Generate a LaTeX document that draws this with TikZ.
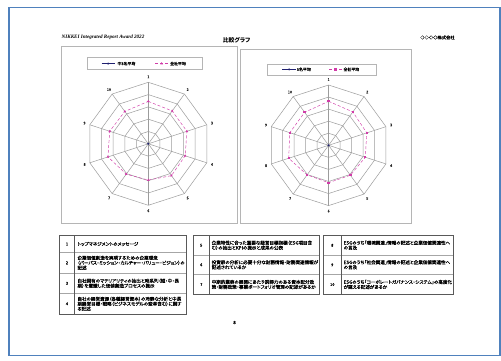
\documentclass[tikz,border=0pt]{standalone}
\usepackage{fontspec}
\setmainfont{Liberation Serif}
\newfontfamily\jp[RawFeature=+palt]{Noto Sans CJK JP}
\newfontfamily\jpm[RawFeature=+palt,FakeBold=0.5]{Noto Sans CJK JP}
\usetikzlibrary{shapes.geometric}
\definecolor{pageblue}{HTML}{4F81BD}
\definecolor{gridgray}{HTML}{9C9C9C}
\definecolor{boxgray}{HTML}{B5B5B5}
\definecolor{navyc}{HTML}{1F2070}
\definecolor{pinkm}{HTML}{D13BA8}
\definecolor{tabdark}{HTML}{595959}
\definecolor{tablight}{HTML}{A6A6A6}
\tikzset{
  gridline/.style={draw=gridgray,line width=0.5pt},
  chartbox/.style={draw=boxgray,line width=0.6pt},
  legbox/.style={draw=boxgray,line width=0.6pt},
  pinkline/.style={draw=pinkm,line width=0.45pt,densely dashed},
  navyline/.style={draw=navyc,line width=0.8pt},
  trimark/.style={regular polygon,regular polygon sides=3,fill=pinkm,inner sep=0pt,minimum size=3pt},
  sqmark/.style={rectangle,fill=pinkm,inner sep=0pt,minimum size=2.3pt},
  navymark/.style={diamond,fill=navyc,inner sep=0pt,minimum size=2.4pt},
  axlabel/.style={font=\jpm\fontsize{3.8}{4}\selectfont,inner sep=0pt,text=black!85},
  legtext/.style={font=\jpm\fontsize{3.9}{4.5}\selectfont,inner sep=0pt,anchor=west},
  cell/.style={font=\jpm\fontsize{4.55}{4.95}\selectfont,inner sep=0pt,anchor=west,align=left},
  numcell/.style={font=\jpm\fontsize{4}{4.5}\selectfont,inner sep=0pt},
  tabouter/.style={draw=tabdark,line width=0.9pt},
  tabrow/.style={draw=tablight,line width=0.5pt},
  tabcol/.style={draw=tabdark,line width=0.7pt}
}
% #1 cx, #2 cy, #3 R, #4 values, #5 prefix, #6 marker style
\newcommand\drawradar[6]{%
  \foreach \ring in {1,...,5}{
    \draw[gridline] ({#1},{#2-#3*\ring/5})
      \foreach \k in {1,...,9}{ -- ({#1+#3*\ring/5*cos(90-36*\k)},{#2-#3*\ring/5*sin(90-36*\k)}) } -- cycle;
  }
  \coordinate (#5c) at (#1,#2);
  \foreach \k in {0,...,9}{
    \coordinate (#5o\k) at ({#1+#3*cos(90-36*\k)},{#2-#3*sin(90-36*\k)});
    \draw[gridline] (#5c) -- (#5o\k);
  }
  \foreach \k in {0,...,9}{
    \pgfmathtruncatemacro\n{\k+1}
    \node[axlabel] (#5lab\n) at ({#1+(#3+5.5)*cos(90-36*\k)},{#2-(#3+5.5)*sin(90-36*\k)}) {\n};
  }
  \foreach \k in {0,...,9}{
    \pgfmathsetmacro\v{{#4}[\k]}
    \coordinate (#5v\k) at ({#1+#3*\v/5*cos(90-36*\k)},{#2-#3*\v/5*sin(90-36*\k)});
  }
  \draw[pinkline] (#5v0) -- (#5v1) -- (#5v2) -- (#5v3) -- (#5v4) -- (#5v5) -- (#5v6) -- (#5v7) -- (#5v8) -- (#5v9) -- cycle;
  \foreach \k in {0,...,9}{ \node[#6] (#5m\k) at (#5v\k) {}; }
  \node[navymark] (#5cm) at (#5c) {};
}
\begin{document}
\begin{tikzpicture}[x=1pt,y=-1pt]
\useasboundingbox (0,0) rectangle (501,361);
\fill[white] (0,0) rectangle (501,361);
\draw[draw=pageblue,line width=1.4pt] (9,7.5) rectangle (499.8,355.5);

% header
\node[font=\bfseries\itshape\fontsize{5.1}{6}\selectfont,anchor=west,inner sep=0pt] (award) at (61.5,37.5) {NIKKEI Integrated Report Award 2022};
\node[font=\jp\bfseries\fontsize{5.8}{6.5}\selectfont,inner sep=0pt] (title) at (236.5,40.5) {比較グラフ};
\node[font=\jpm\fontsize{4.3}{5}\selectfont,inner sep=0pt] (company) at (437.5,37.5) {○○○○株式会社};

% chart boxes
\draw[chartbox] (61,46) rectangle (237.3,223);
\draw[chartbox] (240.5,49) rectangle (411.7,223);

% left legend
\draw[legbox] (87,57.5) rectangle (202,69.5);
\coordinate (la1) at (101.5,63.6);
\coordinate (la2) at (115,63.6);
\draw[navyline] (la1) -- (la2);
\node[navymark] (lam) at (108.2,63.6) {};
\node[legtext] (lat) at (117.3,63.6) {中3名平均};
\coordinate (lb1) at (155,63.6);
\coordinate (lb2) at (168.3,63.6);
\draw[pinkline] (lb1) -- (lb2);
\node[trimark] (lbm) at (161.7,63.6) {};
\node[legtext] (lbt) at (170,63.6) {全社平均};

% right legend
\draw[legbox] (267,64) rectangle (376,75);
\coordinate (ra1) at (282.3,69.4);
\coordinate (ra2) at (296,69.4);
\draw[navyline] (ra1) -- (ra2);
\node[navymark] (ram) at (289.2,69.4) {};
\node[legtext] (rat) at (296.7,69.4) {5名平均};
\coordinate (rb1) at (329,69.4);
\coordinate (rb2) at (341.7,69.4);
\draw[pinkline] (rb1) -- (rb2);
\node[sqmark] (rbm) at (335.4,69.4) {};
\node[legtext] (rbt) at (343.3,69.4) {全社平均};

% radar charts
\drawradar{148.3}{143.8}{61.5}{3.45,3.3,3.3,3.15,3.2,2.95,3.05,3.45,3.3,3.25}{L}{trimark}
\drawradar{328.6}{145.3}{60.3}{3.65,3.42,3.33,3.2,3.07,3.1,3.03,3.48,3.38,3.38}{R}{sqmark}

% ---------- table left ----------
\draw[tabrow] (59.5,252.3) -- (186.5,252.3) (59.5,273.3) -- (186.5,273.3) (59.5,293.3) -- (186.5,293.3);
\draw[tabcol] (74.5,235.7) -- (74.5,314.3);
\draw[tabouter] (59.5,235.7) rectangle (186.5,314.3);
\node[numcell] (n1) at (67,244) {1};
\node[numcell] (n2) at (67,262.8) {2};
\node[numcell] (n3) at (67,283.3) {3};
\node[numcell] (n4) at (67,303.8) {4};
\node[cell] (t1) at (77.3,244) {トップマネジメントのメッセージ};
\node[cell] (t2) at (77.3,262.8) {企業価値創造を実現するための企業理念\\（パーパス・ミッション・カルチャー・バリュー・ビジョン）の\\記述};
\node[cell] (t3) at (77.3,283.3) {自社固有のマテリアリティの抽出と時系列（短・中・長\\期）を意識した価値創造プロセスの提示};
\node[cell] (t4) at (77.3,303.8) {自社の経営資源（各種経営資本）の冷静な分析と中長\\期経営目標・戦略（ビジネスモデルの変革含む）に関す\\る記述};

% ---------- table middle ----------
\draw[tabrow] (193.3,255) -- (319.3,255) (193.3,274.5) -- (319.3,274.5);
\draw[tabcol] (209,235.7) -- (209,294.5);
\draw[tabouter] (193.3,235.7) rectangle (319.3,294.5);
\node[numcell] (n5) at (201.2,245.3) {5};
\node[numcell] (n6) at (201.2,264.8) {6};
\node[numcell] (n7) at (201.2,284.5) {7};
\node[cell] (t5) at (211.5,245.3) {企業特性に合った重要な経営目標指標（ESG項目含\\む）の抽出とKPIの提示と成果の公表};
\node[cell] (t6) at (211.5,264.8) {投資家の分析に必要十分な財務情報・財務関連情報が\\記述されているか};
\node[cell] (t7) at (211.5,284.5) {中期的業容の展開にあたり説得力のある資本配分政\\策・財務政策・事業ポートフォリオ管理の記述があるか};

% ---------- table right ----------
\draw[tabrow] (323.7,255) -- (453.7,255) (323.7,274.5) -- (453.7,274.5);
\draw[tabcol] (341,235.7) -- (341,294.5);
\draw[tabouter] (323.7,235.7) rectangle (453.7,294.5);
\node[numcell] (n8) at (332.3,245.3) {8};
\node[numcell] (n9) at (332.3,264.8) {9};
\node[numcell] (n10) at (332.3,284.5) {10};
\node[cell] (t8) at (343.5,245.3) {ESGのうち「環境関連」情報の記述と企業価値関連性へ\\の言及};
\node[cell] (t9) at (343.5,264.8) {ESGのうち「社会関連」情報の記述と企業価値関連性へ\\の言及};
\node[cell] (t10) at (343.5,284.5) {ESGのうち「コーポレートガバナンス・システム」の高度化\\が窺える記述があるか};

% page number
\node[font=\jpm\fontsize{4.6}{5}\selectfont,inner sep=0pt] (pnum) at (234.5,322.5) {8};
\end{tikzpicture}
\end{document}
